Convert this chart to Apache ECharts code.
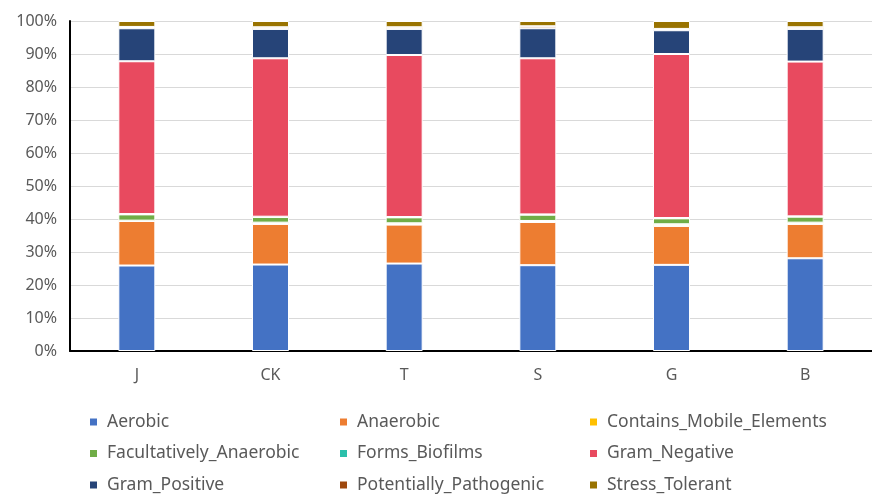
<!DOCTYPE html>
<html>
<head>
<meta charset="utf-8">
<script src="https://cdn.jsdelivr.net/npm/echarts@6/dist/echarts.min.js"></script>
<style>
  html, body { margin: 0; padding: 0; background: #fff; }
  #chart { width: 872px; height: 495px; }
</style>
</head>
<body>
<div id="chart"></div>
<script>
// Sample groups
const categories = ['J', 'CK', 'T', 'S', 'G', 'B'];

// Relative abundance (%) of each phenotype per sample
const aerobic               = [25.9, 26.2, 26.5, 26.0, 26.1, 28.1];
const anaerobic             = [13.5, 12.3, 11.8, 13.1, 11.8, 10.4];
const containsMobile        = [0.1, 0.4, 0.4, 0.3, 0.5, 0.4];
const facultativelyAnaerobic = [1.9, 1.7, 1.8, 1.9, 1.8, 1.8];
const formsBiofilms         = [0.1, 0.1, 0.1, 0.1, 0.1, 0.1];
const gramNegative          = [46.3, 48.0, 49.1, 47.3, 49.7, 46.9];
const gramPositive          = [10.0, 8.9, 7.9, 9.1, 7.2, 9.9];
const potentiallyPathogenic = [0.4, 0.5, 0.5, 0.6, 0.4, 0.5];
const stressTolerant        = [1.8, 1.9, 1.9, 1.6, 2.4, 1.9];

const yTicks = [0, 10, 20, 30, 40, 50, 60, 70, 80, 90, 100];

const seriesDefs = [
  { name: 'Aerobic', data: aerobic, color: '#4472C4' },
  { name: 'Anaerobic', data: anaerobic, color: '#ED7D31' },
  { name: 'Contains_Mobile_Elements', data: containsMobile, color: '#FFC000' },
  { name: 'Facultatively_Anaerobic', data: facultativelyAnaerobic, color: '#70AD47' },
  { name: 'Forms_Biofilms', data: formsBiofilms, color: '#2BBFAA' },
  { name: 'Gram_Negative', data: gramNegative, color: '#E84A5F' },
  { name: 'Gram_Positive', data: gramPositive, color: '#264478' },
  { name: 'Potentially_Pathogenic', data: potentiallyPathogenic, color: '#9E480E' },
  { name: 'Stress_Tolerant', data: stressTolerant, color: '#997300' }
];

const FONT = 'Noto Sans';
const TEXT_COLOR = '#595959';

// Legend laid out as a 3-column grid, filled row by row
const LEGEND_COLS = [88, 338, 588];
const LEGEND_ROWS = [422, 453.5, 485];

const legends = seriesDefs.map((s, i) => ({
  left: LEGEND_COLS[i % 3],
  top: LEGEND_ROWS[Math.floor(i / 3)] - 11,
  itemWidth: 9,
  itemHeight: 9,
  icon: 'rect',
  padding: 0,
  data: [s.name],
  textStyle: { fontFamily: FONT, fontSize: 17.5, color: TEXT_COLOR, lineHeight: 22, padding: [0, 0, 0, 4] }
}));

const chart = echarts.init(document.getElementById('chart'), null, { renderer: 'canvas' });

chart.setOption({
  backgroundColor: '#ffffff',
  animation: false,
  grid: { left: 70, right: -16, top: 21, bottom: 144, containLabel: false },
  legend: legends,
  xAxis: {
    type: 'category',
    data: categories,
    axisLine: { show: true, lineStyle: { color: '#000', width: 2 } },
    axisTick: { show: false },
    axisLabel: { fontFamily: FONT, fontSize: 16, color: TEXT_COLOR, margin: 16 }
  },
  yAxis: {
    type: 'value',
    min: yTicks[0],
    max: yTicks[yTicks.length - 1],
    interval: 10,
    axisLine: { show: true, lineStyle: { color: '#000', width: 2 } },
    axisTick: { show: false },
    splitLine: { lineStyle: { color: '#d9d9d9', width: 1 } },
    axisLabel: { fontFamily: FONT, fontSize: 16, color: TEXT_COLOR, margin: 13, formatter: '{value}%' }
  },
  series: seriesDefs.map(s => ({
    name: s.name,
    type: 'bar',
    stack: 'total',
    barWidth: 37,
    data: s.data,
    itemStyle: { color: s.color, borderColor: '#ffffff', borderWidth: 1 },
    emphasis: { disabled: true }
  }))
});
</script>
</body>
</html>
